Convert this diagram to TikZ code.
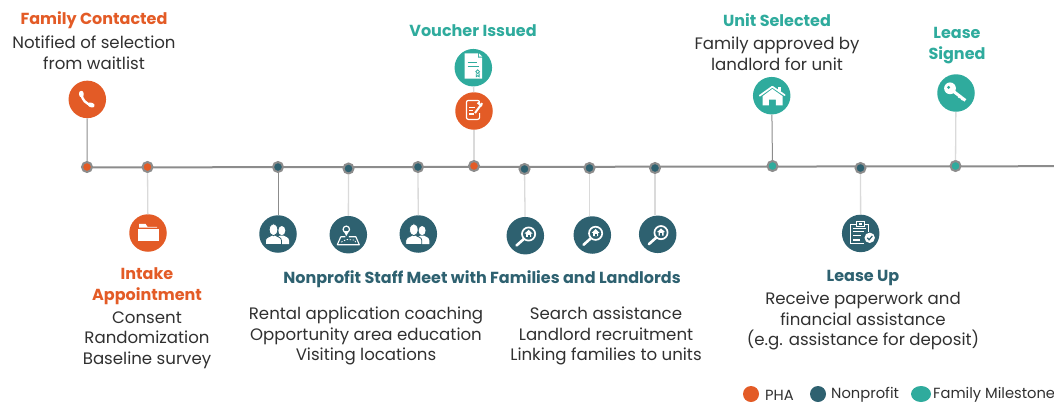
\documentclass[tikz,border=0pt]{standalone}
\usepackage{fontspec}
\usetikzlibrary{shapes.geometric}
\setmainfont{Poppins}
\definecolor{phaorange}{HTML}{E35B26}
\definecolor{nonprofitteal}{HTML}{2E6170}
\definecolor{familygreen}{HTML}{2FAB9D}
\definecolor{railgray}{HTML}{8C8C8C}
\definecolor{stemlight}{HTML}{DADADA}
\definecolor{bodytext}{HTML}{303030}
\tikzset{
  timeline/.style = {draw=railgray, line width=2pt},
  stemdark/.style = {draw=railgray, line width=1pt},
  stempale/.style = {draw=stemlight, line width=1.3pt},
  dot/.style = {circle, inner sep=0pt, minimum size=10pt, draw=railgray,
    line width=2pt, fill=#1},
  badge/.style = {circle, inner sep=0pt, minimum size=37.5pt, fill=#1},
  legendmark/.style = {circle, inner sep=0pt, minimum size=16pt, fill=#1},
  bodylabel/.style = {align=center, text=bodytext, inner sep=0pt,
    font=\fontsize{16.6}{20.6}\selectfont},
  headlabel/.style = {align=center, text=#1, inner sep=0pt,
    font=\fontsize{16}{21}\selectfont\bfseries},
  legendlabel/.style = {anchor=west, text=bodytext, inner sep=0pt,
    font=\fontsize{14.7}{16}\selectfont},
  % white glyphs, drawn at the centre of a badge
  phoneglyph/.pic = {
    \draw[white, line width=2.4pt, line cap=round]
      (-5.6,-5) .. controls (-5.6,0) and (-1,5) .. (4.6,5.6);
    \draw[white, line width=4.4pt, line cap=round] (-6,-6.4) -- (-5.9,-4.4);
    \draw[white, line width=4.4pt, line cap=round] (2.8,5.2) -- (5,6);
  },
  folderglyph/.pic = {
    \fill[white] (-10.5,-4.5) rectangle (11,8);
    \fill[white] (-9,-9.2) -- (-2.5,-9.2) -- (-0.5,-6.2) -- (9,-6.2)
      -- (9,-5.4) -- (-9,-5.4) -- cycle;
  },
  peopleglyph/.pic = {
    \fill[white] (3.8,-3.4) ellipse (3.5 and 4.6);
    \fill[white] (-1,10) -- (-1,4) -- (2,1.5) -- (5.5,1.5)
      .. controls (7,3) and (11,3) .. (11,6.5) -- (11,10) -- cycle;
    \filldraw[white, draw=nonprofitteal, line width=0.8pt]
      (-12.5,10.5) -- (-12.5,6.5) .. controls (-12.5,3) and (-8,3) .. (-6,1)
      -- (-3,1) .. controls (-1,3) and (3.5,3) .. (3.5,6.5) -- (3.5,10.5) -- cycle;
    \filldraw[white, draw=nonprofitteal, line width=0.8pt]
      (-4.5,-4.3) ellipse (4.3 and 6);
  },
  mapglyph/.pic = {
    \draw[white, line width=1.1pt, line join=round]
      (-7.5,2) -- (-3,2) (0.5,2) -- (7.5,2) -- (11,10) -- (-11,10) -- (-7.5,2);
    \draw[white, line width=1.2pt] (-2,-5.4) circle (3.2);
    \fill[white] (-4.6,-3.6) -- (-2,1.4) -- (0.6,-3.6) -- cycle;
    \fill[nonprofitteal] (-2,-5.4) circle (1.6);
    \draw[white, line width=0.8pt, dash pattern=on 1.4pt off 1.6pt]
      (-7,7.4) -- (-2,4.8) -- (6.5,5.4) -- (7.5,8);
  },
  searchglyph/.pic = {
    \draw[white, line width=1.7pt] (3.3,-1.7) circle (6.6);
    \draw[white, line width=2.6pt, line cap=round] (-1.6,3.4) -- (-8.8,9.8);
    \fill[white] (3.3,-6) -- (7.2,-2.2) -- (5.8,-2.2) -- (5.8,1.2) -- (0.8,1.2)
      -- (0.8,-2.2) -- (-0.6,-2.2) -- cycle;
    \fill[nonprofitteal] (2.4,-1) rectangle (4.2,1.2);
  },
  voucherglyph/.pic = {
    \fill[white] (-8.6,-14.4) -- (4.6,-14.4) -- (4.6,-10) -- (8.8,-10)
      -- (8.8,11) -- (-8.6,11) -- cycle;
    \fill[white] (5.6,-14.4) -- (9,-11) -- (5.6,-11) -- cycle;
    \draw[familygreen, line width=0.9pt] (-5.6,-5) -- (3.4,-5);
    \draw[familygreen, line width=0.9pt] (-5.6,-1.6) -- (6,-1.6);
    \draw[familygreen, line width=0.8pt] (4.4,4) circle (1.9);
    \draw[familygreen, line width=0.8pt] (3,5.6) -- (3,9) -- (4.4,8) -- (5.8,9) -- (5.8,5.6);
  },
  noteglyph/.pic = {
    \draw[white, line width=1.2pt, rounded corners=2pt]
      (5.6,2) -- (5.6,8.4) -- (-7.6,8.4) -- (-7.6,-10.6) -- (5.6,-10.6) -- (5.6,-8);
    \draw[white, line width=1pt] (-4.6,-4) -- (1.4,-4);
    \draw[white, line width=1pt] (-4.6,-0.6) -- (-0.6,-0.6);
    \draw[white, line width=1.4pt] (-4.6,3) -- (-0.4,3);
    \draw[phaorange, line width=3.6pt] (8.6,-8.6) -- (0.6,2.4);
    \draw[white, line width=2pt] (8.2,-7.8) -- (1,2);
    \draw[white, line width=2pt] (3.6,-8.4) -- (7.8,-5);
  },
  houseglyph/.pic = {
    \fill[white] (-9,0.4) -- (0.6,-6.8) -- (10.8,0.4) -- (10.8,9.6) -- (4.2,9.6)
      -- (4.2,3.8) -- (-2.8,3.8) -- (-2.8,9.6) -- (-9,9.6) -- cycle;
    \draw[white, line width=1.7pt, line join=round, line cap=round]
      (-12,0) -- (0.6,-9) -- (13,-0.6);
    \fill[white] (6.6,-8.6) rectangle (9.4,-4.4);
  },
  keyglyph/.pic = {
    \fill[white] (-6,-4.7) circle (5.9);
    \fill[familygreen] (-7.4,-5.6) circle (1.6);
    \draw[white, line width=3pt] (-3,-2) -- (9.4,7.4);
    \draw[white, line width=2pt] (4,2.8) -- (2.6,4.8);
    \draw[white, line width=2pt] (7,5) -- (5.6,7);
  },
  clipglyph/.pic = {
    \draw[white, line width=0.9pt] (-3.8,-9.4) -- (-9.8,-9.4) -- (-9.8,10)
      -- (3.4,10) (8,-1.4) -- (8,-9.4) -- (3.4,-9.4);
    \draw[white, line width=1pt, fill=nonprofitteal] (-3.8,-12) rectangle (3.4,-7.4);
    \fill[white] (-2,-10.6) rectangle (1.6,-8.8);
    \draw[white, line width=0.8pt] (-7.6,-4.8) -- (5.4,-4.8);
    \draw[white, line width=0.8pt] (-7.6,-1.6) -- (3,-1.6);
    \draw[white, line width=0.8pt] (-7.6,1.8) -- (0,1.8);
    \fill[white] (-8,6) rectangle (-0.4,8);
    \fill[white] (9,4.4) circle (5.2);
    \draw[nonprofitteal, line width=1.2pt] (6.6,4.4) -- (8.4,6.4) -- (11.6,2.6);
  }
}

\begin{document}
\begin{tikzpicture}[x=1pt,y=-1pt]
  \useasboundingbox (0,0) rectangle (1054,405);
  \coordinate (railstart) at (87,167.4);
  \coordinate (railend) at (1054,166.2);
  \draw[timeline] (railstart) -- (railend);

  % points on the rail
  \node[dot=phaorange] (dotContact) at (87,167) {};
  \node[dot=phaorange] (dotIntake) at (147.5,167) {};
  \node[dot=nonprofitteal] (dotPeopleA) at (278,167) {};
  \node[dot=nonprofitteal] (dotMap) at (348.5,168.5) {};
  \node[dot=nonprofitteal] (dotPeopleB) at (418,167) {};
  \node[dot=phaorange] (dotVoucher) at (474,166) {};
  \node[dot=nonprofitteal] (dotSearchA) at (524.5,169) {};
  \node[dot=nonprofitteal] (dotSearchB) at (589.5,168) {};
  \node[dot=nonprofitteal] (dotSearchC) at (655,168) {};
  \node[dot=familygreen] (dotUnit) at (772.5,166) {};
  \node[dot=nonprofitteal] (dotLease) at (860.5,168) {};
  \node[dot=familygreen] (dotSigned) at (955.5,166) {};

  % badges with their glyphs
  \node[badge=phaorange] (phone) at (87.3,99.4) {};
  \pic at (phone) {phoneglyph};
  \node[badge=phaorange] (folder) at (148,233) {};
  \pic at (folder) {folderglyph};
  \node[badge=nonprofitteal] (peopleA) at (278,234) {};
  \pic at (peopleA) {peopleglyph};
  \node[badge=nonprofitteal] (map) at (348.3,234.7) {};
  \pic at (map) {mapglyph};
  \node[badge=nonprofitteal] (peopleB) at (418.3,234) {};
  \pic at (peopleB) {peopleglyph};
  \node[badge=nonprofitteal] (searchA) at (525.3,235.7) {};
  \pic at (searchA) {searchglyph};
  \node[badge=nonprofitteal] (searchB) at (592.3,235) {};
  \pic at (searchB) {searchglyph};
  \node[badge=nonprofitteal] (searchC) at (657.7,234.3) {};
  \pic at (searchC) {searchglyph};
  \node[badge=familygreen] (voucher) at (473.3,67.7) {};
  \pic at (voucher) {voucherglyph};
  \node[badge=phaorange] (note) at (474,111) {};
  \pic at (note) {noteglyph};
  \node[badge=familygreen] (house) at (771.7,95.7) {};
  \pic at (house) {houseglyph};
  \node[badge=familygreen] (key) at (956,93) {};
  \pic at (key) {keyglyph};
  \node[badge=nonprofitteal] (clip) at (860.7,233.4) {};
  \pic at (clip) {clipglyph};

  % stems
  \draw[stemdark] (dotContact) -- (phone);
  \draw[stempale] (dotIntake) -- (folder);
  \draw[stemdark] (dotPeopleA) -- (peopleA);
  \draw[stempale] (dotMap) -- (map);
  \draw[stempale] (dotPeopleB) -- (peopleB);
  \draw[stempale] (dotVoucher) -- (note);
  \draw[stempale] (note) -- (voucher);
  \draw[stempale] (dotSearchA) -- (searchA);
  \draw[stempale] (dotSearchB) -- (dotSearchB |- searchB.north);
  \draw[stempale] (dotSearchC) -- (dotSearchC |- searchC.north);
  \draw[stemdark] (dotUnit) -- (house);
  \draw[stempale] (dotLease) -- (clip);
  \draw[stempale] (dotSigned) -- (key);

  % labels
  \node[headlabel=phaorange] (contactHead) at (94,20.5) {Family Contacted};
  \node[bodylabel] (contactText) at (94,52.5) {Notified of selection\\from waitlist};
  \node[headlabel=familygreen] (voucherHead) at (473,31) {Voucher Issued};
  \node[headlabel=familygreen] (unitHead) at (777,20) {Unit Selected};
  \node[bodylabel] (unitText) at (777,53.5) {Family approved by\\landlord for unit};
  \node[headlabel=familygreen] (signedHead) at (957,46) {Lease\\Signed};
  \node[headlabel=phaorange] (intakeHead) at (147,286.5) {Intake\\Appointment};
  \node[bodylabel] (intakeText) at (147,340) {Consent\\Randomization\\Baseline survey};
  \node[headlabel=nonprofitteal] (staffHead) at (482,279) {Nonprofit Staff Meet with Families and Landlords};
  \node[bodylabel] (staffLeft) at (366,336) {Rental application coaching\\Opportunity area education\\Visiting locations};
  \node[bodylabel] (staffRight) at (606,336) {Search assistance\\Landlord recruitment\\Linking families to units};
  \node[headlabel=nonprofitteal] (leaseHead) at (863,278) {Lease Up};
  \node[bodylabel] (leaseText) at (863,321) {Receive paperwork and\\financial assistance\\(e.g. assistance for deposit)};

  % legend
  \node[legendmark=phaorange] (keyPha) at (751,394) {};
  \node[legendlabel] (keyPhaText) at (765,395) {PHA};
  \node[legendmark=nonprofitteal] (keyNon) at (818,394) {};
  \node[legendlabel] (keyNonText) at (831,395) {Nonprofit};
  \node[legendmark=familygreen, ellipse, minimum width=20pt, minimum height=16pt] (keyFam) at (921,394) {};
  \node[legendlabel] (keyFamText) at (933,395) {Family Milestone};
\end{tikzpicture}
\end{document}
